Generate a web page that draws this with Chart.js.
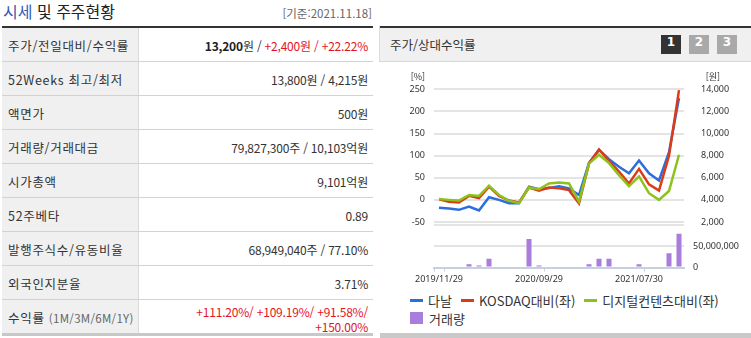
<!DOCTYPE html>
<html lang="ko">
<head>
<meta charset="utf-8">
<title>시세 및 주주현황</title>
<script src="https://cdn.jsdelivr.net/npm/chart.js@4.4.0/dist/chart.umd.min.js"></script>
<style>
  html, body { margin: 0; padding: 0; background: #fff; }
  body {
    width: 751px; height: 338px; position: relative; overflow: hidden;
    font-family: "Noto Sans CJK KR", "Noto Sans", sans-serif; color: #333;
  }
  .title { position: absolute; left: 3px; top: 0; line-height: 22px; font-size: 16px; color: #222; }
  .title span { color: #3558b6; }
  .stamp { position: absolute; right: 379px; top: 4px; line-height: 18px; font-size: 11.5px; color: #666; }
  .bar-dark { position: absolute; height: 2px; background: #333; top: 26px; }

  .tbl { position: absolute; left: 2px; top: 28px; width: 371px; }
  .row { display: flex; height: 33px; border-bottom: 1px solid #d2d2d2; }
  .row:last-child { border-bottom: 3px solid #c8c8c8; }
  .th {
    width: 137px; flex: none; background: #f0f0f0; border-right: 1px solid #dadada;
    padding: 2px 0 0 6px; box-sizing: border-box; line-height: 31px; color: #333; white-space: nowrap;
    font-size: 12.5px; letter-spacing: 0.7px;
  }
  .th small { font-size: 11.5px; color: #666; letter-spacing: 0.3px; }
  .td {
    flex: 1; text-align: right; padding: 2px 5px 0 0; line-height: 31px; color: #333; white-space: nowrap;
    font-size: 12px; letter-spacing: -0.2px;
  }
  .td b { color: #222; }
  .up { color: #e4141e; }
  .td.two { line-height: 15px; padding-top: 4px; }

  .chead {
    position: absolute; left: 380px; top: 28px; width: 371px; height: 33px;
    background: #f0f0f0; border-bottom: 1px solid #d8d8d8;
  }
  .chead .name { position: absolute; left: 10px; top: 0; line-height: 34px; font-size: 12.5px; color: #333; }
  .btn {
    position: absolute; top: 7px; width: 20px; height: 19px; line-height: 19px; text-align: center;
    font: bold 12px "DejaVu Sans", sans-serif; color: #fff; background: #a9a9a9;
  }
  .btn.on { background: #333; }
  .vline { position: absolute; left: 379px; top: 26px; width: 1px; height: 36px; background: #dcdcdc; }
  #chart { position: absolute; left: 380px; top: 62px; }
  .legend { position: absolute; left: 410px; top: 291px; font-size: 13px; color: #333; }
  .legend .lrow { display: flex; align-items: center; height: 18px; }
  .legend .item { display: flex; align-items: center; margin-right: 9px; white-space: nowrap; }
  .legend .mk-line { width: 13px; height: 3px; margin-right: 5px; }
  .legend .mk-box { width: 13px; height: 12px; margin-right: 6px; }
  .foot { position: absolute; left: 380px; top: 333px; width: 371px; height: 5px; background: #c9c9c9; }
</style>
</head>
<body>
<div class="title"><span>시세</span> 및 주주현황</div>
<div class="stamp">[기준:2021.11.18]</div>
<div class="bar-dark" style="left:2px;width:371px"></div>
<div class="bar-dark" style="left:380px;width:371px"></div>

<div class="tbl">
  <div class="row"><div class="th">주가/전일대비/수익률</div><div class="td"><b>13,200</b>원 / <span class="up">+2,400원 / +22.22%</span></div></div>
  <div class="row"><div class="th">52Weeks 최고/최저</div><div class="td">13,800원 / 4,215원</div></div>
  <div class="row"><div class="th">액면가</div><div class="td">500원</div></div>
  <div class="row"><div class="th">거래량/거래대금</div><div class="td">79,827,300주 / 10,103억원</div></div>
  <div class="row"><div class="th">시가총액</div><div class="td">9,101억원</div></div>
  <div class="row"><div class="th">52주베타</div><div class="td">0.89</div></div>
  <div class="row"><div class="th">발행주식수/유동비율</div><div class="td">68,949,040주 / 77.10%</div></div>
  <div class="row"><div class="th">외국인지분율</div><div class="td">3.71%</div></div>
  <div class="row"><div class="th">수익률 <small>(1M/3M/6M/1Y)</small></div><div class="td two up">+111.20%/ +109.19%/ +91.58%/<br>+150.00%</div></div>
</div>

<div class="vline"></div>
<div class="chead">
  <div class="name">주가/상대수익률</div>
  <div class="btn on" style="left:281px">1</div>
  <div class="btn" style="left:309px">2</div>
  <div class="btn" style="left:337px">3</div>
</div>
<canvas id="chart" width="371" height="228"></canvas>
<div class="legend" id="legend"></div>
<div class="foot"></div>

<script>
// monthly points, 2019/11 ~ 2021/11
const dates = [
  '2019/11/29', '2019/12/30', '2020/01/31', '2020/02/28', '2020/03/31', '2020/04/29',
  '2020/05/29', '2020/06/30', '2020/07/31', '2020/08/31', '2020/09/29', '2020/10/30',
  '2020/11/30', '2020/12/30', '2021/01/29', '2021/02/26', '2021/03/31', '2021/04/30',
  '2021/05/31', '2021/06/30', '2021/07/30', '2021/08/31', '2021/09/30', '2021/10/29',
  '2021/11/18'
];
const shownDates = [0, 10, 20];

// 다날 종가 (원, 우축)
const danalPrice = [
  3280, 3220, 3100, 3400, 3040, 4240, 4000, 3700, 3700, 5200, 4960, 5080, 5240,
  5040, 4440, 7360, 8520, 7680, 7000, 6400, 7560, 6400, 5760, 8320, 13200
];
// 상대수익률 (%, 좌축)
const kosdaqRel = [
  1.5, -4, -6, 9, 4, 30, 9, -1.5, -6, 28, 21, 28, 26,
  22, -8, 82, 114, 88, 64, 37, 70, 35, 21, 100, 248
];
const digitalRel = [
  2, 0, -1.5, 11, 9, 32, 11, -2, -7.5, 28, 24, 37, 39,
  37, -4, 82, 102, 83, 56, 31, 53, 15, 0, 20, 102
];
// 거래량 (주)
const volume = [
  0, 0, 0, 7900000, 4700000, 20600000, 0, 0, 2400000,
  67500000, 4700000, 2400000, 2400000, 0, 0, 7900000, 20600000, 20600000,
  2400000, 0, 7900000, 2400000, 0, 34000000, 79827300
];

const pctTicks = [-50, 0, 50, 100, 150, 200, 250];
const priceTicks = [2000, 4000, 6000, 8000, 10000, 12000, 14000];
const volumeTicks = [0, 50000000, 100000000];

const seriesNames = ['다날', 'KOSDAQ대비(좌)', '디지털컨텐츠대비(좌)', '거래량'];
const seriesColors = ['#2b6fdc', '#db3b17', '#8cc21c', '#a97ddb'];

const gridColor = '#e4e4e4';
const axisColor = '#c6d0df';
const tickFont = { family: "'Noto Sans', 'Noto Sans CJK KR', sans-serif", size: 9 };

// 단위 표시 [%] / [원]
const unitLabels = {
  id: 'unitLabels',
  afterDraw(chart) {
    const { ctx, chartArea } = chart;
    ctx.save();
    ctx.font = "9px 'Noto Sans CJK KR', 'Noto Sans', sans-serif";
    ctx.fillStyle = '#333';
    ctx.textAlign = 'right';
    ctx.textBaseline = 'middle';
    ctx.fillText('[%]', chartArea.left - 9, chartArea.top - 13);
    ctx.fillText('[원]', chartArea.right + 36, chartArea.top - 13);
    ctx.restore();
  }
};

new Chart(document.getElementById('chart'), {
  data: {
    labels: dates,
    datasets: [
      {
        type: 'bar', label: seriesNames[3], data: volume, yAxisID: 'yv',
        backgroundColor: seriesColors[3], barPercentage: 0.5, categoryPercentage: 1, order: 4
      },
      {
        type: 'line', label: seriesNames[0], data: danalPrice, yAxisID: 'y1',
        borderColor: seriesColors[0], borderWidth: 2.5, pointRadius: 0, tension: 0, order: 3
      },
      {
        type: 'line', label: seriesNames[1], data: kosdaqRel, yAxisID: 'y',
        borderColor: seriesColors[1], borderWidth: 2.5, pointRadius: 0, tension: 0, order: 2
      },
      {
        type: 'line', label: seriesNames[2], data: digitalRel, yAxisID: 'y',
        borderColor: seriesColors[2], borderWidth: 2.5, pointRadius: 0, tension: 0, order: 1
      }
    ]
  },
  options: {
    responsive: false,
    animation: false,
    layout: { padding: { top: 27.3, left: 0, right: 0, bottom: 0 } },
    plugins: { legend: { display: false }, tooltip: { enabled: false } },
    scales: {
      x: {
        type: 'category',
        offset: true,
        grid: {
          offset: true, drawOnChartArea: false, tickLength: 4, lineWidth: 1,
          color: c => [0, 1, 11, 21].includes(c.index) ? axisColor : 'transparent'
        },
        border: { color: axisColor, width: 2 },
        ticks: {
          autoSkip: false, maxRotation: 0, minRotation: 0, padding: 3,
          font: tickFont, color: '#333',
          callback: (v, i) => shownDates.includes(i) ? dates[i] : ''
        },
        afterFit: s => { s.height = 22.5; }
      },
      y: {
        position: 'left',
        min: -152.9, max: 250,
        afterBuildTicks: s => { s.ticks = pctTicks.map(v => ({ value: v })); },
        grid: { color: gridColor, lineWidth: 2, drawTicks: false },
        border: { display: false },
        ticks: { autoSkip: false, padding: 9, font: tickFont, color: '#333' },
        afterFit: s => { s.width = 54; }
      },
      // 우측: 주가(위) / 거래량(아래) 세로로 쌓음
      y1: {
        position: 'right',
        stack: 'right',
        stackWeight: 136,
        weight: 0,
        min: 1702, max: 14000,
        afterBuildTicks: s => { s.ticks = priceTicks.map(v => ({ value: v })); },
        grid: { display: false },
        border: { display: false },
        ticks: {
          autoSkip: false, padding: 9, font: tickFont, color: '#333',
          callback: v => v.toLocaleString('en-US')
        },
        afterFit: s => { s.width = 67; }
      },
      yv: {
        position: 'right',
        stack: 'right',
        stackWeight: 42.2,
        weight: 1,
        min: 0, max: 100000000,
        afterBuildTicks: s => { s.ticks = volumeTicks.map(v => ({ value: v })); },
        grid: {
          lineWidth: 2, drawTicks: false,
          color: c => (c.tick && c.tick.value > 0) ? gridColor : 'transparent'
        },
        border: { display: false },
        ticks: {
          autoSkip: false, padding: 9, font: tickFont, color: '#333',
          callback: v => v === 100000000 ? '' : v.toLocaleString('en-US')
        },
        afterFit: s => { s.width = 67; }
      }
    }
  },
  plugins: [unitLabels]
});

// 범례: 선 3개 + 거래량
const legendEl = document.getElementById('legend');
const rows = [[0, 1, 2], [3]];
rows.forEach(r => {
  const rowEl = document.createElement('div');
  rowEl.className = 'lrow';
  r.forEach(i => {
    const item = document.createElement('div');
    item.className = 'item';
    const mk = document.createElement('span');
    mk.className = i === 3 ? 'mk-box' : 'mk-line';
    mk.style.background = seriesColors[i];
    const txt = document.createElement('span');
    txt.textContent = seriesNames[i];
    item.appendChild(mk);
    item.appendChild(txt);
    rowEl.appendChild(item);
  });
  legendEl.appendChild(rowEl);
});
</script>
</body>
</html>
